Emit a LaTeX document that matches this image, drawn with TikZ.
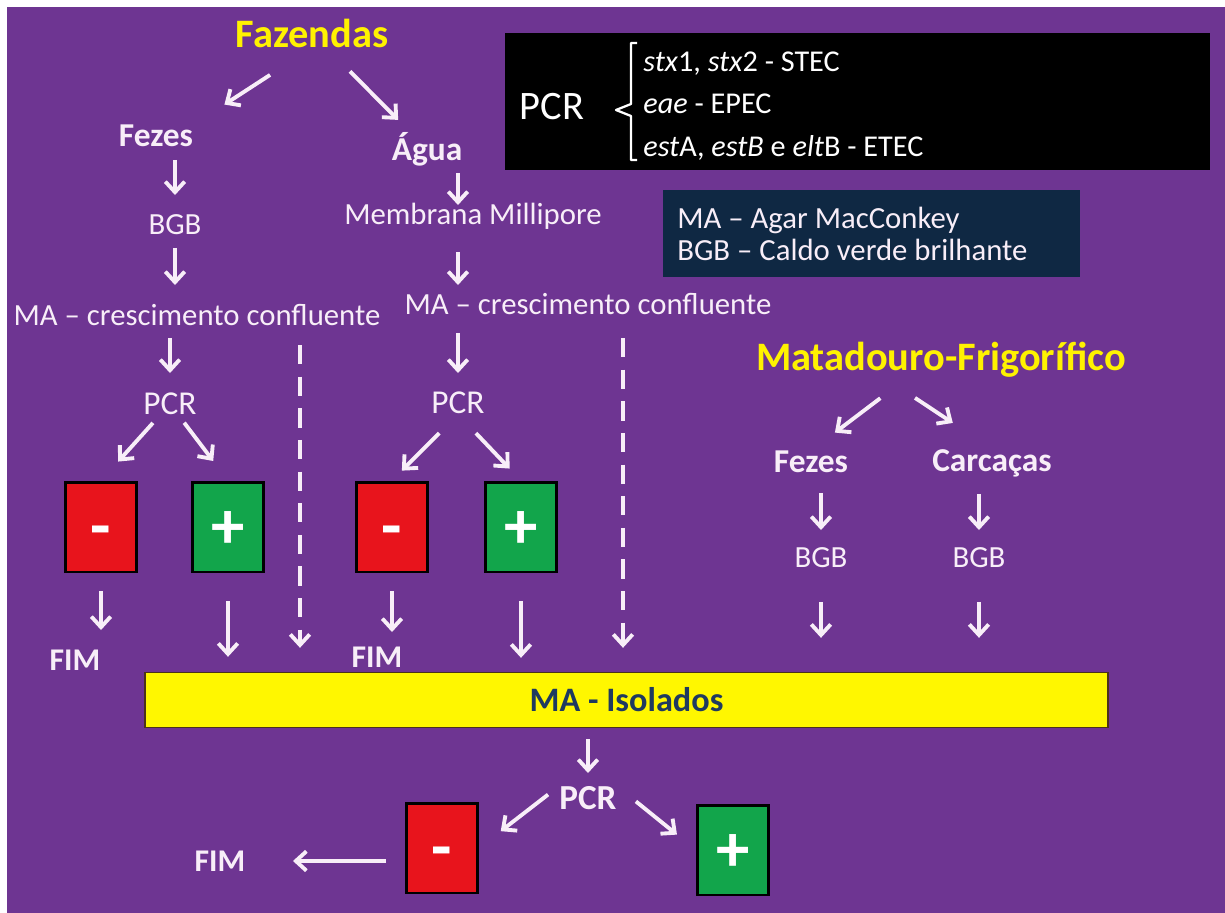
\documentclass[tikz,border=0pt]{standalone}
\usepackage{fontspec}
\setmainfont{Carlito}
\usepackage{xcolor}
\definecolor{mPurple}{HTML}{6E3592}
\definecolor{mSoftWhite}{HTML}{F8EEF8}
\definecolor{mYellow}{HTML}{FFF200}
\definecolor{mRed}{HTML}{E8141C}
\definecolor{mGreen}{HTML}{12A54B}
\definecolor{mNavy}{HTML}{0F2843}
\definecolor{mBarYellow}{HTML}{FFF700}
\definecolor{mBarText}{HTML}{1F3A60}
\usetikzlibrary{arrows.meta,calc}

\begin{document}
\begin{tikzpicture}[x=0.02cm, y=-0.02cm,
  every node/.style={inner sep=0pt, text=mSoftWhite, font=\fontsize{17.5}{20}\selectfont},
  lbl/.style={font=\fontsize{19}{22}\selectfont\bfseries},
  fim/.style={font=\fontsize{18}{20}\selectfont\bfseries},
  pcr/.style={font=\fontsize{19}{22}\selectfont},
  ttl/.style={text=mYellow, font=\fontsize{23}{26}\selectfont\bfseries},
  resbox/.style={draw=black, line width=1.7pt, minimum width=1.42cm, minimum height=1.8cm, text height=24pt, text depth=0pt, text=white, font=\fontsize{38}{40}\selectfont\bfseries},
  negbox/.style={resbox, fill=mRed},
  posbox/.style={resbox, fill=mGreen},
  arr/.style={draw=mSoftWhite, line width=2.2pt, -{Straight Barb[length=6pt,width=11pt]}},
  dsh/.style={arr, dash pattern=on 11pt off 7pt}]
% slide background
\fill[white] (0,0) rectangle (1225,913);
\fill[mPurple] (7,7) rectangle (1225,913);

% legend boxes
\node (pcrbox) [fill=black, minimum width=14.1cm, minimum height=2.74cm] at (857.5,101.5) {};
\node (pcrbig) [font=\fontsize{23}{26}\selectfont, text=white] at (552,107) {PCR};
\node (genes) [anchor=west, align=left, text=white, font=\fontsize{17.2}{24.4}\selectfont] at (643,106)
  {\textit{stx}1, \textit{stx}2 - STEC\\\textit{eae} - EPEC\\\textit{est}A, \textit{estB} e \textit{elt}B - ETEC};
\draw[white, line width=1.3pt, line join=round] (637,43) -- (631,43) -- (631,104) -- (616,110) -- (631,116) -- (631,160) -- (637,160);
\node (leg) [fill=mNavy, minimum width=8.34cm, minimum height=1.74cm] at (871.5,233.5) {};
\node (legtxt) [anchor=west, align=left, font=\fontsize{17.5}{18.2}\selectfont] at (677,234) {MA – Agar MacConkey\\BGB – Caldo verde brilhante};

% Fazendas
\node[ttl] (faz) at (312,33) {Fazendas};
\node[lbl] (fez1) at (156,136) {Fezes};
\node (bgb1) at (175,225) {BGB};
\node (ma1) at (197,315) {MA – crescimento confluente};
\node[pcr] (pcr1) at (170,404) {PCR};
\node[negbox] (n1) at (101,527) {-};
\node[posbox] (p1) at (228,527) {+};
\node[fim] (fim1) at (75,660) {FIM};
\coordinate (d1) at (300,345);

\node[lbl] (agua) at (427,149) {Água};
\node (mem) at (473,216) {Membrana Millipore};
\node (ma2) at (588,304) {MA – crescimento confluente};
\node[pcr] (pcr2) at (458,403) {PCR};
\node[negbox] (n2) at (392,527) {-};
\node[posbox] (p2) at (521,527) {+};
\node[fim] (fim2) at (377,657) {FIM};
\coordinate (d2) at (623,338);

% Matadouro
\node[ttl] (mat) at (941,360) {Matadouro-Frigorífico};
\node[lbl] (fez2) at (811,462) {Fezes};
\node[lbl] (car) at (992,463) {Carcaças};
\node (bgb2) at (821,558) {BGB};
\node (bgb3) at (979,558) {BGB};

% isolados
\node (bar) [fill=mBarYellow, draw=black!60!brown, line width=0.8pt, minimum width=19.26cm, minimum height=1.1cm,
  text=mBarText, font=\fontsize{19.5}{22}\selectfont\bfseries] at (626.5,700) {MA - Isolados};
\node[pcr, font=\fontsize{20}{22}\selectfont\bfseries] (pcr3) at (588,798) {PCR};
\node[negbox] (n3) at (442,848) {-};
\node[posbox] (p3) at (733,850) {+};
\node[fim] (fim3) at (220,861) {FIM};

% arrows
\draw[arr, shorten <=1.0cm, shorten >=0.74cm] (faz.south) -- (fez1.north east);
\draw[arr, shorten <=1.08cm, shorten >=0.82cm] (faz.center) -- (agua.center);
\draw[arr, shorten <=0.48cm, shorten >=0.6cm] (bgb1.center |- fez1.center) -- (bgb1.center);
\draw[arr, shorten <=0.46cm, shorten >=0.6cm] (bgb1.center) -- (bgb1.center |- ma1.center);
\draw[arr, shorten <=0.46cm, shorten >=0.62cm] (pcr1.center |- ma1.center) -- (pcr1.center);
\draw[arr, shorten <=0.51cm, shorten >=0.51cm] (pcr1.center) -- (n1.north);
\draw[arr, shorten <=0.47cm, shorten >=0.49cm] (pcr1.center) -- (p1.north);
\draw[arr, shorten <=0.36cm, shorten >=0.6cm] (n1.south) -- (n1.south |- fim1.center);
\draw[arr, shorten <=0.56cm, shorten >=0.3cm] (p1.south) -- (p1.south |- bar.north);
\draw[dsh, shorten >=0.48cm] (d1) -- (d1 |- bar.north);

\draw[arr, shorten <=0.48cm, shorten >=0.22cm] (pcr2.center |- agua.center) -- (pcr2.center |- mem.center);
\draw[arr, shorten <=0.72cm, shorten >=0.38cm] (pcr2.center |- mem.center) -- (pcr2.center |- ma2.center);
\draw[arr, shorten <=0.58cm, shorten >=0.6cm] (pcr2.center |- ma2.center) -- (pcr2.center);
\draw[arr, shorten <=0.53cm, shorten >=0.28cm] (pcr2.south) -- (n2.north);
\draw[arr, shorten <=0.52cm, shorten >=0.33cm] (pcr2.south) -- (p2.north);
\draw[arr, shorten <=0.36cm, shorten >=0.5cm] (n2.south) -- (n2.south |- fim2.center);
\draw[arr, shorten <=0.56cm, shorten >=0.28cm] (p2.south) -- (p2.south |- bar.north);
\draw[dsh, shorten >=0.48cm] (d2) -- (d2 |- bar.north);

\draw[arr, shorten <=0.67cm, shorten >=0.6cm] ([xshift=-0.68cm]mat.south) -- (fez2.north);
\draw[arr, shorten <=0.72cm, shorten >=0.94cm] ([xshift=-1.12cm]mat.south) -- (car.north);
\draw[arr, shorten <=0.62cm, shorten >=0.56cm] (bgb2.center |- fez2.center) -- (bgb2.center);
\draw[arr, shorten <=0.62cm, shorten >=0.56cm] (bgb3.center |- car.center) -- (bgb3.center);
\draw[arr, shorten <=0.88cm, shorten >=0.68cm] (bgb2.center) -- (bgb2.center |- bar.north);
\draw[arr, shorten <=0.88cm, shorten >=0.68cm] (bgb3.center) -- (bgb3.center |- bar.north);

\draw[arr, shorten <=0.22cm, shorten >=0.5cm] (pcr3.center |- bar.south) -- (pcr3.center);
\draw[arr, shorten <=0.28cm, shorten >=0.55cm] (pcr3.north west) -- (n3.east);
\draw[arr, shorten <=0.49cm, shorten >=0.49cm] (pcr3.north east) -- (p3.west);
\draw[arr, shorten <=0.38cm, shorten >=1.46cm] (n3.west |- fim3.center) -- (fim3.center);
\end{tikzpicture}
\end{document}
